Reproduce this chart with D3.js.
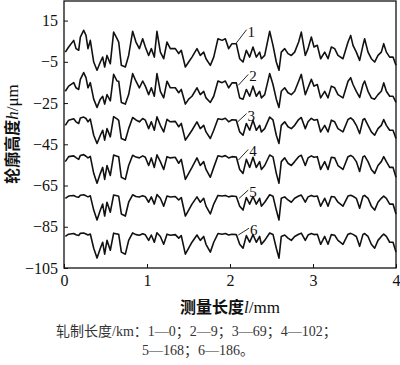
<!DOCTYPE html>
<html lang="zh">
<head>
<meta charset="utf-8">
<title>轮廓高度</title>
<script src="https://d3js.org/d3.v7.min.js"></script>
<style>
  body { margin: 0; background: #fff; }
  svg { display: block; }
</style>
</head>
<body>
<script>
// measured position along the profile (mm)
const xMm = [0.016,0.056,0.117,0.145,0.177,0.197,0.237,0.265,0.289,0.317,0.358,0.398,0.438,0.466,0.490,0.518,0.558,0.598,0.639,0.659,
  0.691,0.739,0.779,0.827,0.867,0.908,0.948,0.980,1.020,1.052,1.088,1.120,1.161,1.201,1.241,1.281,1.341,1.382,1.413,1.462,
  1.502,1.542,1.602,1.642,1.683,1.711,1.763,1.804,1.855,1.904,1.944,1.984,2.024,2.076,2.117,2.157,2.197,2.237,2.277,2.317,
  2.357,2.378,2.418,2.478,2.518,2.558,2.590,2.618,2.659,2.699,2.739,2.779,2.827,2.859,2.907,2.940,2.980,3.012,3.052,3.092,
  3.141,3.181,3.221,3.261,3.301,3.361,3.422,3.454,3.482,3.522,3.562,3.602,3.622,3.663,3.703,3.743,3.783,3.823,3.852,3.884,
  3.924,3.964,4.000];

// profile heights (um), rolling length 0, 9, 69, 102, 168, 186 km
const p1 = [-0.3,2.2,5.4,1.4,0.6,7.0,10.3,7.8,1.4,5.4,-5.1,-9.1,-5.1,-2.7,-7.5,-1.9,-5.9,9.4,6.2,4.6,
  -6.7,-7.5,-1.9,9.8,4.6,1.4,6.2,2.2,-1.9,1.4,-2.7,9.8,-0.3,-3.5,4.6,1.4,1.4,-1.0,0.6,-7.5,
  -5.1,-2.7,1.4,-1.9,-0.3,-3.5,-6.7,-2.7,6.2,5.4,6.2,1.4,3.8,3.8,-3.5,-5.1,0.6,-2.7,2.2,-2.7,
  -0.3,-3.5,-1.9,9.8,3.0,-5.1,-9.1,-0.3,1.4,-1.0,-1.9,-0.3,4.6,9.4,-1.9,1.4,7.0,2.2,3.0,-3.5,
  -0.3,-3.5,2.2,1.4,-1.9,-3.5,4.6,7.8,3.0,-0.3,-4.3,3.0,6.2,-0.3,-3.5,-5.1,-1.9,-0.3,3.8,-0.3,
  -2.7,-2.7,-6.7];
const p2 = [-19.3,-16.8,-15.1,-17.6,-18.4,-13.5,-10.2,-12.7,-17.6,-15.1,-23.1,-27.1,-23.1,-21.7,-25.5,-20.9,-23.9,-11.1,-14.3,-14.4,
  -24.7,-25.5,-20.9,-10.7,-14.4,-17.6,-14.3,-16.8,-20.9,-17.6,-21.7,-10.7,-19.3,-22.5,-14.4,-17.6,-17.6,-20.0,-18.4,-25.5,
  -23.1,-21.7,-17.6,-20.9,-19.3,-22.5,-24.7,-21.7,-14.3,-15.1,-14.3,-17.6,-15.2,-15.2,-22.5,-23.1,-18.4,-21.7,-16.8,-21.7,
  -19.3,-22.5,-20.9,-10.7,-16.0,-23.1,-27.1,-19.3,-17.6,-20.0,-20.9,-19.3,-14.4,-11.1,-20.9,-17.6,-13.5,-16.8,-16.0,-22.5,
  -19.3,-22.5,-16.8,-17.6,-20.9,-22.5,-14.4,-12.7,-16.0,-19.3,-22.3,-16.0,-14.3,-19.3,-22.5,-23.1,-20.9,-19.3,-15.2,-19.3,
  -21.7,-21.7,-24.7];
const p3 = [-35.8,-33.3,-32.6,-34.1,-34.9,-32.2,-31.8,-32.5,-34.1,-32.8,-40.6,-44.6,-40.6,-38.2,-43.0,-37.4,-41.4,-31.6,-32.7,-33.4,
  -42.2,-43.0,-37.4,-32.0,-33.2,-34.1,-32.5,-33.3,-37.4,-34.1,-38.2,-31.7,-35.8,-39.0,-32.9,-34.1,-33.9,-36.5,-34.9,-43.0,
  -40.6,-38.2,-34.1,-37.4,-35.8,-39.0,-42.2,-38.2,-32.6,-33.0,-32.4,-34.1,-33.1,-33.3,-39.0,-40.6,-34.9,-38.2,-33.3,-38.2,
  -35.8,-39.0,-37.4,-31.8,-33.2,-40.6,-44.6,-35.8,-34.1,-36.5,-37.4,-35.8,-33.0,-32.0,-37.4,-34.1,-32.4,-33.3,-33.0,-39.0,
  -35.8,-39.0,-33.3,-34.1,-37.4,-39.0,-33.0,-32.2,-33.1,-35.8,-39.8,-33.1,-32.5,-35.8,-39.0,-40.6,-37.4,-35.8,-33.0,-35.8,
  -38.2,-38.2,-42.2];
const p4 = [-53.4,-51.0,-50.6,-51.5,-52.3,-50.4,-50.0,-50.8,-51.6,-50.9,-59.1,-63.9,-59.1,-56.2,-62.0,-55.3,-60.1,-50.2,-50.8,-51.1,
  -61.0,-62.0,-55.3,-50.3,-51.2,-51.6,-50.6,-51.3,-55.3,-51.6,-56.2,-50.1,-53.4,-57.2,-51.0,-51.6,-51.3,-54.2,-52.3,-62.0,
  -59.1,-56.2,-51.6,-55.3,-53.4,-57.2,-61.0,-56.2,-50.6,-51.0,-50.5,-51.6,-51.0,-51.2,-57.2,-59.1,-52.3,-56.2,-51.3,-56.2,
  -53.4,-57.2,-55.3,-50.2,-51.1,-59.1,-63.9,-53.4,-51.6,-54.2,-55.3,-53.4,-51.0,-50.3,-55.3,-51.6,-50.6,-51.3,-51.0,-57.2,
  -53.4,-57.2,-51.3,-51.6,-55.3,-57.2,-51.0,-50.4,-51.1,-53.4,-58.2,-51.1,-50.6,-53.4,-57.2,-59.1,-55.3,-53.4,-51.0,-53.4,
  -56.2,-56.2,-61.0];
const p5 = [-71.2,-70.1,-69.8,-70.4,-70.7,-69.7,-69.5,-70.0,-70.5,-70.0,-76.9,-81.7,-76.9,-74.0,-79.8,-73.1,-77.9,-69.6,-70.0,-70.2,
  -78.8,-79.8,-73.1,-69.5,-70.3,-70.6,-69.9,-70.4,-73.1,-70.5,-74.0,-69.4,-71.2,-75.0,-70.1,-70.6,-70.3,-72.0,-70.8,-79.8,
  -76.9,-74.0,-70.5,-73.1,-71.2,-75.0,-78.8,-74.0,-69.8,-70.1,-69.8,-70.5,-70.1,-70.3,-75.0,-76.9,-70.8,-74.0,-70.3,-74.0,
  -71.2,-75.0,-73.1,-69.5,-70.2,-76.9,-81.7,-71.2,-70.5,-72.0,-73.1,-71.2,-70.1,-69.6,-73.1,-70.5,-69.8,-70.3,-70.1,-75.0,
  -71.2,-75.0,-70.3,-70.6,-73.1,-75.0,-70.1,-69.7,-70.2,-71.2,-76.0,-70.2,-69.8,-71.2,-75.0,-76.9,-73.1,-71.2,-70.1,-71.2,
  -74.0,-74.0,-78.8];
const p6 = [-89.7,-88.6,-88.3,-88.9,-89.2,-88.2,-88.0,-88.5,-89.0,-88.5,-95.4,-100.2,-95.4,-92.5,-98.3,-91.6,-96.4,-88.1,-88.5,-88.7,
  -97.3,-98.3,-91.6,-88.0,-88.8,-89.1,-88.4,-88.9,-91.6,-89.0,-92.5,-87.9,-89.7,-93.5,-88.6,-89.1,-88.8,-90.5,-89.3,-98.3,
  -95.4,-92.5,-89.0,-91.6,-89.7,-93.5,-97.3,-92.5,-88.3,-88.6,-88.3,-89.0,-88.6,-88.8,-93.5,-95.4,-89.3,-92.5,-88.8,-92.5,
  -89.7,-93.5,-91.6,-88.0,-88.7,-95.4,-100.2,-89.7,-89.0,-90.5,-91.6,-89.7,-88.6,-88.1,-91.6,-89.0,-88.3,-88.8,-88.6,-93.5,
  -89.7,-93.5,-88.8,-89.1,-91.6,-93.5,-88.6,-88.2,-88.7,-89.7,-94.5,-88.7,-88.3,-89.7,-93.5,-95.4,-91.6,-89.7,-88.6,-89.7,
  -92.5,-92.5,-97.3];
const profiles = [p1, p2, p3, p4, p5, p6];

// curve labels and their leader lines (mm, um)
const labelNames = ["1", "2", "3", "4", "5", "6"];
const leadX0 = [2.07, 2.10, 2.09, 2.10, 2.11, 2.10];
const leadY0 = [3.8, -16.4, -34.2, -52.7, -71.2, -89.0];
const leadX1 = [2.20, 2.22, 2.20, 2.22, 2.22, 2.23];
const leadY1 = [10.6, -11.1, -30.1, -47.5, -67.2, -85.7];

const yTicks = [15, -5, -25, -45, -65, -85, -105];
const xTicks = [0, 1, 2, 3, 4];
const captionLines = ["轧制长度/km：1—0；2—9；3—69；4—102；", "5—168；6—186。"];

const width = 400, height = 365;
const mLeft = 64, mRight = 396, mTop = 1, mBottom = 268;
const serif = "'Liberation Serif', 'Times New Roman', serif";
const cjk = "'Noto Sans CJK SC', sans-serif";

const x = d3.scaleLinear().domain([0, 4]).range([mLeft, mRight]);
const y = d3.scaleLinear().domain([-105, 24.5]).range([mBottom, mTop]);

const svg = d3.select("body").append("svg")
  .attr("width", width)
  .attr("height", height);

// profiles
const line = d3.line()
  .x((d, i) => x(xMm[i]))
  .y(d => y(d));

svg.append("g")
  .selectAll("path")
  .data(profiles)
  .join("path")
  .attr("d", line)
  .attr("fill", "none")
  .attr("stroke", "#111")
  .attr("stroke-width", 1.6)
  .attr("stroke-linejoin", "round");

// frame
svg.append("rect")
  .attr("x", mLeft).attr("y", mTop)
  .attr("width", mRight - mLeft).attr("height", mBottom - mTop)
  .attr("fill", "none")
  .attr("stroke", "#111")
  .attr("stroke-width", 1.3);

// axes, ticks pointing inward
svg.append("g")
  .attr("transform", "translate(" + mLeft + ",0)")
  .call(d3.axisLeft(y).tickValues(yTicks).tickSize(-4).tickPadding(6))
  .call(g => g.select(".domain").remove())
  .call(g => g.selectAll("line").attr("stroke", "#111"))
  .call(g => g.selectAll("text").attr("fill", "#111")
    .style("font-family", serif).style("font-size", "16px"));

svg.append("g")
  .attr("transform", "translate(0," + mBottom + ")")
  .call(d3.axisBottom(x).tickValues(xTicks).tickFormat(d3.format("d")).tickSize(-4).tickPadding(7))
  .call(g => g.select(".domain").remove())
  .call(g => g.selectAll("line").attr("stroke", "#111"))
  .call(g => g.selectAll("text").attr("fill", "#111")
    .style("font-family", serif).style("font-size", "16px"));

// curve labels
svg.append("g")
  .selectAll("line")
  .data(labelNames)
  .join("line")
  .attr("x1", (d, i) => x(leadX0[i]))
  .attr("y1", (d, i) => y(leadY0[i]))
  .attr("x2", (d, i) => x(leadX1[i]))
  .attr("y2", (d, i) => y(leadY1[i]))
  .attr("stroke", "#111")
  .attr("stroke-width", 0.9);

svg.append("g")
  .selectAll("text")
  .data(labelNames)
  .join("text")
  .attr("x", (d, i) => x(leadX1[i]) + 1)
  .attr("y", (d, i) => y(leadY1[i]) + 7)
  .style("font-family", serif)
  .style("font-size", "15px")
  .attr("fill", "#111")
  .text(d => d);

// axis titles
const xTitle = svg.append("text")
  .attr("x", 230).attr("y", 313)
  .attr("text-anchor", "middle")
  .attr("fill", "#111");
xTitle.append("tspan").style("font-family", cjk).style("font-weight", "bold")
  .style("font-size", "16px").text("测量长度");
xTitle.append("tspan").style("font-family", serif).style("font-style", "italic")
  .style("font-size", "17px").text("l");
xTitle.append("tspan").style("font-family", serif)
  .style("font-size", "17px").text("/mm");

const yTitle = svg.append("text")
  .attr("transform", "translate(18,134) rotate(-90)")
  .attr("text-anchor", "middle")
  .attr("fill", "#111");
yTitle.append("tspan").style("font-family", cjk).style("font-weight", "bold")
  .style("font-size", "16px").text("轮廓高度");
yTitle.append("tspan").style("font-family", serif).style("font-style", "italic")
  .style("font-size", "17px").text("h");
yTitle.append("tspan").style("font-family", serif)
  .style("font-size", "17px").text("/μm");

// caption
svg.append("g")
  .selectAll("text")
  .data(captionLines)
  .join("text")
  .attr("x", (d, i) => i === 0 ? 56 : 142)
  .attr("y", (d, i) => i === 0 ? 336 : 355)
  .style("font-family", serif + ", " + cjk)
  .style("font-size", "14px")
  .attr("fill", "#333")
  .text(d => d);
</script>
</body>
</html>
